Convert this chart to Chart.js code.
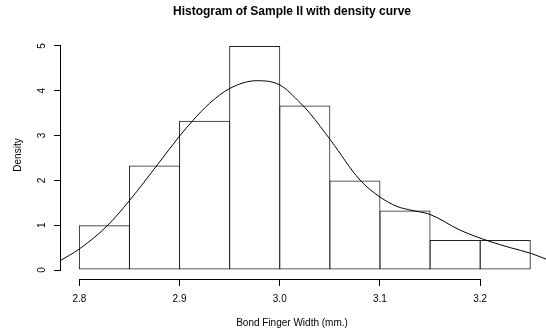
<!DOCTYPE html>
<html lang="en">
<head>
    <meta charset="UTF-8">
    <title>Histogram of Sample II</title>
    <script src="https://cdn.jsdelivr.net/npm/chart.js"></script>
    <style>
        body { margin: 0; background: #fff; }
    </style>
</head>
<body>
    <canvas id="histChart" width="546" height="335"></canvas>
<script>
    // histogram bins (edges) and heights
    const binEdges = [2.80, 2.85, 2.90, 2.95, 3.00, 3.05, 3.10, 3.15, 3.20, 3.25];
    const densities = [1.0, 2.33, 3.33, 5.0, 3.67, 2.0, 1.33, 0.67, 0.67];

    // density curve, read point by point
    const curveX = [2.781, 2.80, 2.8275, 2.85, 2.879, 2.90, 2.913, 2.93, 2.95, 2.977, 3.00, 3.0205, 3.03,
                    3.051, 3.08, 3.10, 3.117, 3.13, 3.15, 3.18, 3.208, 3.23, 3.251, 3.266];
    const curveY = [0.21, 0.47, 0.98, 1.55, 2.38, 2.99, 3.33, 3.72, 4.05, 4.225, 4.13, 3.73, 3.50,
                    2.89, 2.01, 1.63, 1.42, 1.34, 1.24, 0.89, 0.65, 0.50, 0.37, 0.24];

    const xTicks = [2.8, 2.9, 3.0, 3.1, 3.2];
    const xTickLabels = ['2.8', '2.9', '3.0', '3.1', '3.2'];
    const yTicks = [0, 1, 2, 3, 4, 5];

    const chartTitle = 'Histogram of Sample II with density curve';
    const xTitle = 'Bond Finger Width (mm.)';
    const yTitle = 'Density';

    const FONT = '"Liberation Sans", Arial, sans-serif';

    let barData = [];
    for (var i = 0; i < densities.length; i++) {
        barData.push({ x: (binEdges[i] + binEdges[i + 1]) / 2, y: densities[i] });
    }
    let lineData = [];
    for (var j = 0; j < curveX.length; j++) {
        lineData.push({ x: curveX[j], y: curveY[j] });
    }

    // R style axes: lines only between first and last tick, rotated y labels, titles
    const rStyle = {
        id: 'rStyle',
        afterDraw(chart) {
            const ctx = chart.ctx;
            const x = chart.scales.x;
            const y = chart.scales.y;
            const area = chart.chartArea;
            ctx.save();
            ctx.strokeStyle = '#000';
            ctx.lineWidth = 1;

            // x axis line
            const yb = Math.round(area.bottom) + 0.5;
            ctx.beginPath();
            ctx.moveTo(x.getPixelForValue(xTicks[0]), yb);
            ctx.lineTo(x.getPixelForValue(xTicks[xTicks.length - 1]), yb);
            ctx.stroke();

            // y axis line
            const xl = Math.round(area.left) - 0.5;
            ctx.beginPath();
            ctx.moveTo(xl, y.getPixelForValue(yTicks[0]));
            ctx.lineTo(xl, y.getPixelForValue(yTicks[yTicks.length - 1]));
            ctx.stroke();

            // y tick labels, parallel to the axis
            ctx.fillStyle = '#000';
            ctx.font = '10px ' + FONT;
            ctx.textAlign = 'center';
            ctx.textBaseline = 'middle';
            yTicks.forEach(function (v) {
                ctx.save();
                ctx.translate(42, y.getPixelForValue(v));
                ctx.rotate(-Math.PI / 2);
                ctx.fillText(String(v), 0, 0);
                ctx.restore();
            });

            // y title
            ctx.save();
            ctx.translate(18, 155);
            ctx.rotate(-Math.PI / 2);
            ctx.fillText(yTitle, 0, 0);
            ctx.restore();

            // x title
            ctx.fillText(xTitle, 292, 323);

            // main title
            ctx.font = 'bold 12px ' + FONT;
            ctx.fillText(chartTitle, 292, 12);
            ctx.restore();
        }
    };

    const config = {
        type: 'line',
        data: {
            datasets: [
                {
                    type: 'bar',
                    data: barData,
                    backgroundColor: 'rgba(255,255,255,0)',
                    borderColor: '#222',
                    borderWidth: 1,
                    borderSkipped: false,
                    // a hair over full width so neighbouring edges land on one line
                    barPercentage: 1.02,
                    categoryPercentage: 1,
                    order: 2
                },
                {
                    type: 'line',
                    data: lineData,
                    borderColor: '#000',
                    borderWidth: 1,
                    pointRadius: 0,
                    fill: false,
                    cubicInterpolationMode: 'monotone',
                    clip: false,
                    order: 1
                }
            ]
        },
        options: {
            responsive: false,
            animation: false,
            layout: { padding: { top: 37, left: 0, right: 0, bottom: 0 } },
            plugins: {
                legend: { display: false },
                tooltip: { enabled: false },
                title: { display: false }
            },
            scales: {
                x: {
                    type: 'linear',
                    min: 2.7817,
                    max: 3.2657,
                    offset: false,
                    border: { display: false },
                    grid: {
                        offset: false,
                        drawOnChartArea: false,
                        drawTicks: true,
                        tickLength: 7,
                        color: '#000'
                    },
                    afterBuildTicks: function (scale) {
                        scale.ticks = xTicks.map(function (v) { return { value: v }; });
                    },
                    afterFit: function (scale) { scale.height = 56; },
                    ticks: {
                        color: '#000',
                        padding: 7,
                        maxRotation: 0,
                        font: { family: FONT, size: 10 },
                        callback: function (value) {
                            const k = xTicks.indexOf(value);
                            return k >= 0 ? xTickLabels[k] : '';
                        }
                    }
                },
                y: {
                    type: 'linear',
                    min: -0.2,
                    max: 5.2,
                    border: { display: false },
                    grid: {
                        drawOnChartArea: false,
                        drawTicks: true,
                        tickLength: 7,
                        color: '#000'
                    },
                    afterBuildTicks: function (scale) {
                        scale.ticks = yTicks.map(function (v) { return { value: v }; });
                    },
                    afterFit: function (scale) { scale.width = 61; },
                    ticks: { display: false }
                }
            }
        },
        plugins: [rStyle]
    };

    let histChart = new Chart(document.getElementById('histChart'), config);
</script>
</body>
</html>
